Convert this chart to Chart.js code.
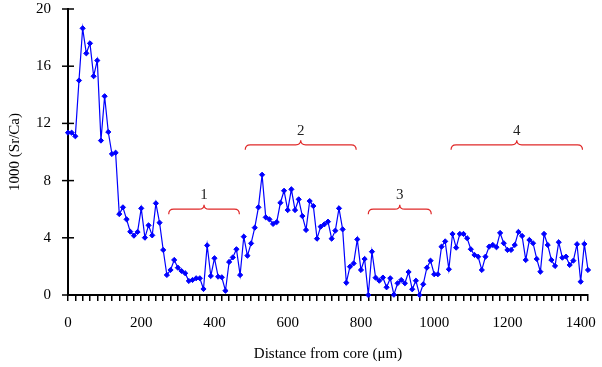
<!DOCTYPE html>
<html>
<head>
<meta charset="utf-8">
<script src="https://cdn.jsdelivr.net/npm/chart.js@4/dist/chart.umd.min.js"></script>
<style>
  body { margin: 0; background: #fff; }
  #wrap { width: 602px; height: 367px; }
</style>
</head>
<body>
<div id="wrap"><canvas id="chart" width="602" height="367"></canvas></div>
<script>
// distance from core (µm) and the Sr/Ca ratio
const distance = [
  0, 10, 20, 30, 40, 50, 60, 70, 80, 90, 100, 110, 120, 130, 140, 150, 160, 170, 180, 190,
  200, 210, 220, 230, 240, 250, 260, 270, 280, 290, 300, 310, 320, 330, 340, 350, 360, 370, 380, 390,
  400, 410, 420, 430, 440, 450, 460, 470, 480, 490, 500, 510, 520, 530, 540, 550, 560, 570, 580, 590,
  600, 610, 620, 630, 640, 650, 660, 670, 680, 690, 700, 710, 720, 730, 740, 750, 760, 770, 780, 790,
  800, 810, 820, 830, 840, 850, 860, 870, 880, 890, 900, 910, 920, 930, 940, 950, 960, 970, 980, 990,
  1000, 1010, 1020, 1030, 1040, 1050, 1060, 1070, 1080, 1090, 1100, 1110, 1120, 1130, 1140, 1150, 1160, 1170, 1180, 1190,
  1200, 1210, 1220, 1230, 1240, 1250, 1260, 1270, 1280, 1290, 1300, 1310, 1320, 1330, 1340, 1350, 1360, 1370, 1380, 1390,
  1400, 1410, 1420
];
const srCa = [
  11.35, 11.35, 11.1, 15.0, 18.65, 16.9, 17.6, 15.3, 16.4, 10.8, 13.9, 11.4, 9.86, 9.95, 5.66, 6.13, 5.29, 4.43, 4.15, 4.41,
  6.06, 4.01, 4.87, 4.17, 6.41, 5.06, 3.15, 1.4, 1.75, 2.45, 1.91, 1.68, 1.52, 0.98, 1.05, 1.17, 1.17, 0.42, 3.47, 1.33,
  2.57, 1.28, 1.24, 0.3, 2.31, 2.63, 3.2, 1.4, 4.08, 2.75, 3.61, 4.71, 6.13, 8.41, 5.43, 5.29, 4.97, 5.1, 6.45, 7.29,
  5.94, 7.39, 5.94, 6.69, 5.52, 4.55, 6.57, 6.22, 3.94, 4.78, 4.94, 5.13, 3.94, 4.5, 6.06, 4.59, 0.86, 1.98, 2.21, 3.89,
  1.75, 2.52, 0.0, 3.03, 1.21, 1.0, 1.22, 0.54, 1.17, 0.02, 0.82, 1.05, 0.82, 1.61, 0.4, 1.0, 0.0, 0.75, 1.91, 2.4,
  1.45, 1.45, 3.38, 3.75, 1.8, 4.27, 3.31, 4.27, 4.27, 3.97, 3.2, 2.8, 2.68, 1.75, 2.68, 3.38, 3.5, 3.34, 4.34, 3.62,
  3.15, 3.15, 3.5, 4.41, 4.13, 2.45, 3.85, 3.62, 2.52, 1.63, 4.27, 3.5, 2.45, 2.03, 3.69, 2.61, 2.68, 2.1, 2.4, 3.55,
  0.93, 3.57, 1.75
];

// tick labels
const yTicks = [0, 4, 8, 12, 16, 20];
const xLabelStep = 200;

// zone braces (in data units)
const braceLabels = ['1', '2', '3', '4'];
const braceStart = [275, 484, 820, 1046];
const braceEnd = [468, 787, 992, 1405];
const braceLevel = [6.0, 10.5, 6.0, 10.5];

const points = distance.map((d, i) => ({ x: d, y: srCa[i] }));
const serif = '"Liberation Serif", "Times New Roman", serif';

// y tick marks crossing the axis, and the red braces
const extras = {
  id: 'extras',
  afterDraw(chart) {
    const ctx = chart.ctx;
    const xs = chart.scales.x, ys = chart.scales.y;
    const left = chart.chartArea.left;
    ctx.save();
    ctx.strokeStyle = '#000';
    ctx.lineWidth = 1.5;
    yTicks.forEach(v => {
      const y = ys.getPixelForValue(v);
      ctx.beginPath();
      ctx.moveTo(left - 6, y);
      ctx.lineTo(left + 6, y);
      ctx.stroke();
    });

    ctx.strokeStyle = '#e02828';
    ctx.lineWidth = 1.2;
    ctx.fillStyle = '#222';
    ctx.font = '15px ' + serif;
    ctx.textAlign = 'center';
    ctx.textBaseline = 'middle';
    braceLabels.forEach((lab, i) => {
      const x1 = xs.getPixelForValue(braceStart[i]);
      const x2 = xs.getPixelForValue(braceEnd[i]);
      const xm = (x1 + x2) / 2;
      const y = ys.getPixelForValue(braceLevel[i]);
      const r = 5;
      ctx.beginPath();
      ctx.moveTo(x1, y + r);
      ctx.quadraticCurveTo(x1, y, x1 + r, y);
      ctx.lineTo(xm - r, y);
      ctx.quadraticCurveTo(xm, y, xm, y - 4.5);
      ctx.quadraticCurveTo(xm, y, xm + r, y);
      ctx.lineTo(x2 - r, y);
      ctx.quadraticCurveTo(x2, y, x2, y + r);
      ctx.stroke();
      ctx.fillText(lab, xm, y - 14);
    });
    ctx.restore();
  }
};

new Chart(document.getElementById('chart'), {
  type: 'line',
  data: {
    datasets: [{
      data: points,
      borderColor: '#0000ff',
      backgroundColor: '#0000ff',
      borderWidth: 1.2,
      pointStyle: 'rectRot',
      pointRadius: 2.6,
      pointBorderWidth: 1,
      tension: 0,
      clip: false
    }]
  },
  options: {
    responsive: false,
    animation: false,
    layout: { padding: { top: 9, right: 14, bottom: 0, left: 0 } },
    plugins: { legend: { display: false }, tooltip: { enabled: false } },
    scales: {
      x: {
        type: 'linear',
        min: 0,
        max: 1420,
        afterFit: s => { s.height = 72; },
        border: { display: true, color: '#000', width: 2 },
        grid: { display: true, drawOnChartArea: false, drawTicks: true, tickLength: 6, color: '#000', lineWidth: 1.5 },
        ticks: {
          stepSize: 20,
          maxTicksLimit: 200,
          autoSkip: false,
          maxRotation: 0,
          minRotation: 0,
          padding: 13,
          color: '#000',
          font: { family: serif, size: 15 },
          callback: v => (v % xLabelStep === 0 ? String(v) : '')
        },
        title: {
          display: true,
          text: 'Distance from core (μm)',
          color: '#000',
          font: { family: serif, size: 15 },
          padding: { top: 4, bottom: 4 }
        }
      },
      y: {
        min: 0,
        max: 20,
        afterFit: s => { s.width = 68; s.paddingTop = 0; s.paddingBottom = 0; },
        border: { display: true, color: '#000', width: 2 },
        grid: { display: false },
        ticks: {
          stepSize: 4,
          padding: 9,
          color: '#000',
          font: { family: serif, size: 15 }
        },
        title: {
          display: true,
          text: '1000 (Sr/Ca)',
          color: '#000',
          font: { family: serif, size: 15 },
          padding: { top: 6, bottom: 0 }
        }
      }
    }
  },
  plugins: [extras]
});
</script>
</body>
</html>
